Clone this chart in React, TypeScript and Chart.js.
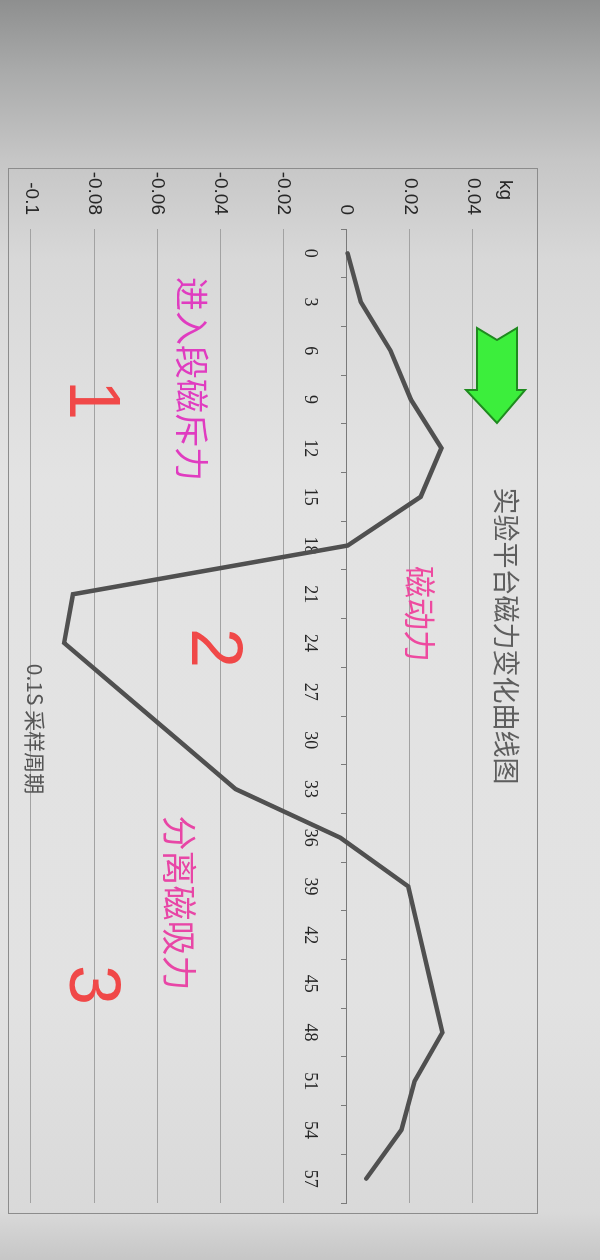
import { useEffect, useRef, type ReactNode } from "react";
import Chart from "chart.js/auto";

// 采样点序号（0.1S 一个采样周期），图上每 3 个点标一次
const SAMPLES = [0, 3, 6, 9, 12, 15, 18, 21, 24, 27, 30, 33, 36, 39, 42, 45, 48, 51, 54, 57];
// 磁力读数 kg
const FORCE = [
  0.0003, 0.0045, 0.0139, 0.0203, 0.03, 0.0234, 0.0003, -0.0867, -0.0895, -0.0714,
  -0.0533, -0.0352, -0.002, 0.0195, 0.0231, 0.0267, 0.0303, 0.0215, 0.0173, 0.0062,
];
const Y_TICKS = [-0.1, -0.08, -0.06, -0.04, -0.02, 0, 0.02, 0.04];
// 横轴上的小刻度（类别边界）
const X_MARKS = [
  -1.5, 1.5, 4.5, 7.5, 10.5, 13.5, 16.5, 19.5, 22.5, 25.5, 28.5, 31.5, 34.5, 37.5, 40.5,
  43.5, 46.5, 49.5, 52.5, 55.5, 58.5,
];

const CJK = "'Noto Sans CJK SC', sans-serif";
const AXIS = "#7a7a7a";

function Note({ x, y, size, color, family = CJK, weight = 400, children }: {
  x: number; y: number; size: number; color: string; family?: string; weight?: number; children: ReactNode;
}) {
  return (
    <div
      style={{
        position: "absolute", left: x, top: y, transform: "translate(-50%, -50%)",
        fontSize: size, color, fontFamily: family, fontWeight: weight, lineHeight: 1, whiteSpace: "nowrap",
      }}
    >
      {children}
    </div>
  );
}

function ForceChart() {
  const ref = useRef<HTMLCanvasElement>(null);
  useEffect(() => {
    if (!ref.current) return;
    const chart = new Chart(ref.current, {
      type: "line",
      data: {
        datasets: [
          {
            data: SAMPLES.map((s, i) => ({ x: s, y: FORCE[i] })),
            borderColor: "#505050",
            borderWidth: 4.5,
            borderJoinStyle: "miter",
            borderCapStyle: "round",
            pointRadius: 0,
            tension: 0,
          },
        ],
      },
      options: {
        animation: false,
        responsive: false,
        layout: { padding: { left: 0, right: 57, top: 127, bottom: 31 } },
        plugins: { legend: { display: false }, tooltip: { enabled: false } },
        scales: {
          x: {
            type: "linear",
            min: -1.5,
            max: 58.5,
            position: { y: 0 },
            afterBuildTicks: (s) => { s.ticks = SAMPLES.map((v) => ({ value: v })); },
            grid: { display: false },
            border: { display: true, color: AXIS, width: 1 },
            ticks: {
              autoSkip: false, maxRotation: 0, padding: 18, color: "#262626",
              font: { family: "'Liberation Serif', serif", size: 18 },
              callback: (v) => String(v),
            },
          },
          marks: {
            type: "linear",
            axis: "x",
            min: -1.5,
            max: 58.5,
            position: { y: 0 },
            afterBuildTicks: (s) => { s.ticks = X_MARKS.map((v) => ({ value: v })); },
            grid: { display: true, drawOnChartArea: false, drawTicks: true, tickLength: 6, color: AXIS },
            border: { display: false },
            ticks: { display: false },
          },
          y: {
            type: "linear",
            min: -0.1,
            max: 0.04,
            afterBuildTicks: (s) => { s.ticks = Y_TICKS.map((v) => ({ value: v })); },
            afterFit: (s) => { s.width = 229; },
            grid: { color: "#a2a2a2", lineWidth: 1, drawTicks: false },
            border: { display: false },
            ticks: {
              padding: 14, color: "#262626",
              font: { family: "'Liberation Sans', sans-serif", size: 19 },
              callback: (v) => String(Number(Number(v).toFixed(2))),
            },
          },
        },
      },
    });
    return () => chart.destroy();
  }, []);
  return <canvas ref={ref} width={1260} height={600} style={{ position: "absolute", left: 0, top: 0 }} />;
}

export default function App() {
  // 照片是横放的图表：先按横版 1260x600 画，再整体顺时针转 90°
  return (
    <div
      style={{
        position: "fixed", left: 0, top: 0, width: 1260, height: 600,
        transformOrigin: "0 0", transform: "translateX(600px) rotate(90deg)",
        background:
          "linear-gradient(to right, #8e8f8f 0px, #a9aaaa 70px, #c6c6c6 160px, #d8d8d8 260px, #e3e3e3 480px, #e2e2e2 1000px, #d9d9d9 1212px, #c6c6c6 1260px)",
        overflow: "hidden",
      }}
    >
      <div style={{ position: "absolute", left: 168, top: 62, width: 1044, height: 528, border: "1px solid #8c8c8c" }} />
      <ForceChart />

      <Note x={636} y={92} size={27} color="#5e5e5e">实验平台磁力变化曲线图</Note>
      <div
        style={{
          position: "absolute", left: 180, top: 93, transform: "translateY(-50%)",
          fontFamily: "'Liberation Sans', sans-serif", fontSize: 19, color: "#262626", lineHeight: 1,
        }}
      >
        kg
      </div>
      <Note x={729} y={564} size={21} color="#555">0.1S 采样周期</Note>

      <svg style={{ position: "absolute", left: 320, top: 70 }} width={110} height={70}>
        <polygon
          points="8,13 70,13 70,5 103,33 70,64 70,53 8,53 20,33"
          fill="#3cee3c"
          stroke="#1f8a1f"
          strokeWidth={2}
          strokeLinejoin="miter"
        />
      </svg>

      <Note x={379} y={407} size={34} color="#e03cc0">进入段磁斥力</Note>
      <Note x={614} y={178} size={32} color="#ee4aa0">磁动力</Note>
      <Note x={903} y={418} size={35} color="#e846a6">分离磁吸力</Note>

      <Note x={400} y={505} size={72} color="#f04848" family="'Liberation Sans', sans-serif">1</Note>
      <Note x={648} y={383} size={72} color="#f04848" family="'Liberation Sans', sans-serif">2</Note>
      <Note x={985} y={505} size={72} color="#f04848" family="'Liberation Sans', sans-serif">3</Note>
    </div>
  );
}
